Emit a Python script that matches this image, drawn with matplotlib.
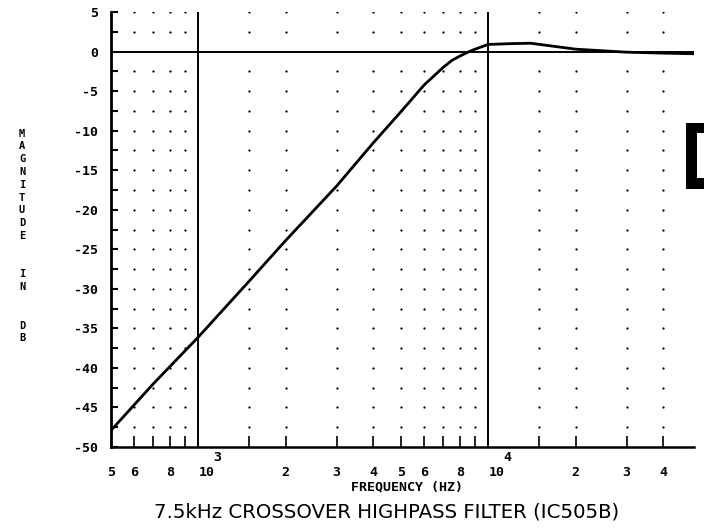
import numpy as np
import matplotlib
matplotlib.use('Agg')
import matplotlib.pyplot as plt
from matplotlib.patches import Rectangle
from matplotlib.ticker import NullFormatter

# Measured response of the highpass section (frequency in Hz, gain in dB)
freq_hz = [500, 700, 1000, 1500, 2000, 3000, 4000, 5000, 6000, 7000, 7500,
           8000, 8600, 9000, 10000, 12000, 14000, 20000, 30000, 40000, 51000]
gain_db = [-47.9, -42.0, -36.1, -29.0, -23.9, -17.0, -11.6, -7.6, -4.25, -1.98,
           -1.1, -0.55, 0.0, 0.3, 0.9, 1.0, 1.05, 0.3, -0.08, -0.2, -0.28]

# Axis ticks and labels
x_label_freqs = [500, 600, 800, 1000, 2000, 3000, 4000, 5000, 6000, 8000,
                 10000, 20000, 30000, 40000]
x_label_text = ['5', '6', '8', '10', '2', '3', '4', '5', '6', '8',
                '10', '2', '3', '4']
x_minor_freqs = [600, 700, 800, 900, 1500, 2000, 3000, 4000, 5000, 6000,
                 7000, 8000, 9000, 15000, 20000, 30000, 40000]
decade_lines = [1000, 10000]
decade_exps = ['3', '4']
db_ticks = [5, 0, -5, -10, -15, -20, -25, -30, -35, -40, -45, -50]
db_tick_text = ['5', '0', '-5', '-10', '-15', '-20', '-25', '-30', '-35',
                '-40', '-45', '-50']
db_dot_rows = [5, 2.5, -2.5, -5, -7.5, -10, -12.5, -15, -17.5, -20, -22.5,
               -25, -27.5, -30, -32.5, -35, -37.5, -40, -42.5, -45, -47.5]

title = '7.5kHz CROSSOVER HIGHPASS FILTER (IC505B)'
x_title = 'FREQUENCY (HZ)'
y_title = 'MAGNITUDE IN DB'

plot_font = 'DejaVu Sans Mono'

fig = plt.figure(figsize=(7.04, 5.29), dpi=100)
W, H = 704, 529
ax = fig.add_axes([111 / W, 82 / H, 582.5 / W, 435 / H])
ax.set_xscale('log')
ax.set_xlim(500, 51000)
ax.set_ylim(-50, 5)

for s in ['top', 'right']:
    ax.spines[s].set_visible(False)
ax.spines['left'].set_linewidth(2.0)
ax.spines['bottom'].set_linewidth(1.8)

# dotted grid
gx, gy = np.meshgrid(x_minor_freqs, db_dot_rows)
ax.scatter(gx.ravel(), gy.ravel(), s=2.6, color='black', lw=0, zorder=2)

# reference lines
ax.axhline(0, color='black', lw=1.4, zorder=3)
for f in decade_lines:
    ax.axvline(f, color='black', lw=1.4, zorder=3)

ax.plot(freq_hz, gain_db, color='black', lw=2.0, zorder=4,
        solid_joinstyle='round', solid_capstyle='round')

# x ticks
ax.xaxis.remove_overlapping_locs = False
ax.set_xticks(x_label_freqs)
ax.set_xticklabels(x_label_text)
ax.set_xticks(x_minor_freqs, minor=True)
ax.xaxis.set_minor_formatter(NullFormatter())
ax.tick_params(axis='x', which='both', direction='in', length=8, width=1.2,
               pad=13.5, labelsize=9.5)
ax.tick_params(axis='x', which='major', length=0)
for lbl in ax.get_xticklabels():
    lbl.set_fontfamily(plot_font)
    lbl.set_fontweight('bold')
    if lbl.get_text() == '10':
        lbl.set_horizontalalignment('left')

for f, e in zip(decade_lines, decade_exps):
    ax.annotate(e, xy=(f, 0), xycoords=('data', 'axes fraction'),
                xytext=(19, -10.5), textcoords='offset pixels',
                ha='center', va='center', fontsize=9.5,
                family=plot_font, weight='bold')

# y ticks
ax.set_yticks(db_ticks)
ax.set_yticklabels(db_tick_text)
ax.set_yticks(db_dot_rows, minor=True)
ax.tick_params(axis='y', which='both', direction='in', length=5, width=1.5,
               pad=9.5, labelsize=9.5)
for lbl in ax.get_yticklabels():
    lbl.set_fontfamily(plot_font)
    lbl.set_fontweight('bold')

fig.text(407 / W, 1 - 487 / H, x_title, ha='center', va='center',
         fontsize=9.5, family=plot_font, weight='bold')

fig.text(22 / W, 1 - 236 / H, '\n'.join(y_title.replace(' ', '  ')),
         ha='center', va='center', fontsize=7.5, family=plot_font,
         weight='bold', linespacing=1.35)

fig.text(386.5 / W, 1 - 512 / H, title, ha='center', va='center',
         fontsize=14.2, family='DejaVu Sans')

# edge of a heavy bracket mark at the right margin
fig.add_artist(Rectangle((686 / W, 1 - 189 / H), 0.05, 66 / H,
                         transform=fig.transFigure, color='black', lw=0))
fig.add_artist(Rectangle((697 / W, 1 - 178 / H), 0.05, 45 / H,
                         transform=fig.transFigure, color='white', lw=0))

fig.savefig('out.png', dpi=100)
